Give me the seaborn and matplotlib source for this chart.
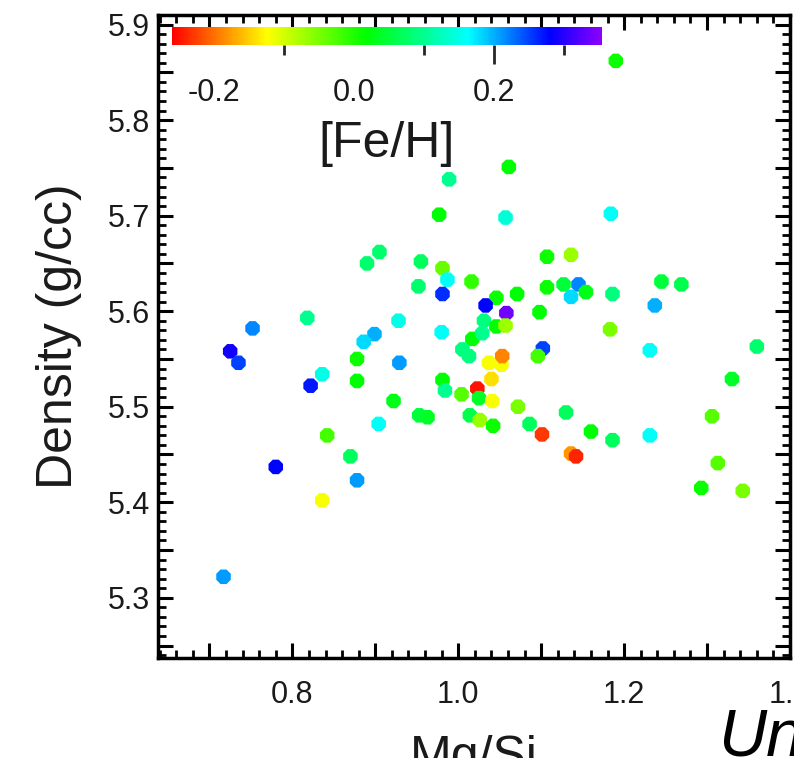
import numpy as np
import pandas as pd
import matplotlib
matplotlib.use("Agg")
import matplotlib.pyplot as plt
from matplotlib.colors import LinearSegmentedColormap, Normalize
from matplotlib.ticker import MultipleLocator, FuncFormatter
import seaborn as sns

# ---- data ----
mg_si = [1.190, 1.061, 0.989, 0.977, 1.057, 1.184, 0.905, 0.890, 0.955, 0.981,
         0.987, 1.016, 0.952, 0.981, 0.818, 0.928, 0.752, 0.980, 0.899, 0.886,
         1.017, 1.005, 1.013, 0.878, 0.929, 0.725, 0.735, 0.836, 0.822, 0.878,
         0.981, 0.984, 1.004, 0.922, 0.953, 0.963, 0.904, 0.842, 0.870, 0.780,
         0.878, 0.836, 0.717, 1.023, 1.014, 1.026, 1.042, 1.025, 1.041, 1.072,
         1.086, 1.101, 1.130, 1.136, 1.142, 1.160, 1.186, 1.231, 1.306, 1.313,
         1.293, 1.343, 1.330, 1.360, 1.231, 1.183, 1.102, 1.096, 1.098, 1.107,
         1.136, 1.107, 1.127, 1.145, 1.136, 1.154, 1.186, 1.245, 1.269, 1.237,
         1.046, 1.071, 1.033, 1.058, 1.031, 1.046, 1.057, 1.029, 1.052, 1.053,
         1.037, 1.040]
density = [5.862, 5.751, 5.738, 5.701, 5.698, 5.702, 5.662, 5.650, 5.652, 5.645,
           5.633, 5.631, 5.626, 5.618, 5.593, 5.590, 5.582, 5.578, 5.576, 5.568,
           5.571, 5.560, 5.553, 5.550, 5.546, 5.558, 5.546, 5.534, 5.522, 5.527,
           5.528, 5.517, 5.513, 5.506, 5.491, 5.489, 5.482, 5.470, 5.448, 5.437,
           5.423, 5.402, 5.322, 5.519, 5.491, 5.486, 5.480, 5.509, 5.506, 5.500,
           5.482, 5.471, 5.494, 5.451, 5.448, 5.474, 5.465, 5.470, 5.490, 5.441,
           5.415, 5.412, 5.529, 5.563, 5.559, 5.581, 5.561, 5.553, 5.599, 5.657,
           5.659, 5.625, 5.628, 5.628, 5.615, 5.620, 5.618, 5.631, 5.628, 5.606,
           5.614, 5.618, 5.606, 5.598, 5.590, 5.584, 5.585, 5.577, 5.544, 5.553,
           5.546, 5.529]
fe_h = [0.01, 0.02, 0.10, 0.02, 0.14, 0.16, 0.08, 0.08, 0.07, -0.04,
        0.16, -0.01, 0.08, 0.26, 0.10, 0.15, 0.22, 0.16, 0.20, 0.18,
        0.02, 0.09, 0.09, 0.01, 0.21, 0.29, 0.25, 0.15, 0.27, 0.02,
        0.02, 0.10, -0.03, 0.03, 0.05, 0.04, 0.16, -0.02, 0.07, 0.28,
        0.21, -0.12, 0.21, -0.25, 0.06, -0.07, 0.01, 0.04, -0.12, -0.05,
        0.07, -0.23, 0.07, -0.18, -0.24, 0.02, 0.07, 0.16, -0.03, -0.03,
        0.01, -0.05, 0.04, 0.08, 0.16, -0.05, 0.25, -0.02, 0.02, 0.01,
        -0.07, 0.01, 0.05, 0.22, 0.18, 0.03, 0.09, 0.05, 0.06, 0.20,
        0.01, 0.02, 0.28, 0.34, 0.09, 0.02, -0.07, 0.10, -0.12, -0.19,
        -0.12, -0.14]

cbar_ticks = [-0.2, 0.0, 0.2]
cbar_minor = [-0.1, 0.1, 0.3]
x_labels = [0.8, 1.0, 1.2, 1.4]
y_labels = [5.3, 5.4, 5.5, 5.6, 5.7, 5.8, 5.9]

df = pd.DataFrame({"Mg/Si": mg_si, "Density": density, "FeH": fe_h})

# ---- style ----
sns.set_style("ticks")
plt.rcParams["font.family"] = ["Liberation Sans", "DejaVu Sans"]
plt.rcParams["axes.unicode_minus"] = True

cmap = LinearSegmentedColormap.from_list(
    "idl_rainbow",
    [(0.0, (1.0, 0.0, 0.0)), (0.11, (1.0, 0.5, 0.0)), (0.22, (1.0, 1.0, 0.0)),
     (0.45, (0.0, 1.0, 0.0)), (0.69, (0.0, 1.0, 1.0)), (0.88, (0.0, 0.0, 1.0)),
     (1.0, (0.55, 0.0, 1.0))])
vmin, vmax = -0.26, 0.355
norm = Normalize(vmin=vmin, vmax=vmax)

W, H = 794, 758
fig = plt.figure(figsize=(W / 100, H / 100), dpi=100)
ax = fig.add_axes([158 / W, 1 - 658 / H, (790 - 158) / W, (658 - 15) / H])

sns.scatterplot(data=df, x="Mg/Si", y="Density", hue="FeH", palette=cmap,
                hue_norm=norm, marker="8", s=128, linewidth=0, legend=False,
                ax=ax, zorder=3)

ax.set_xlim(0.638, 1.4)
ax.set_ylim(5.237, 5.91)

ax.xaxis.set_major_locator(MultipleLocator(0.1))
ax.xaxis.set_minor_locator(MultipleLocator(0.02))
ax.yaxis.set_major_locator(MultipleLocator(0.05))
ax.yaxis.set_minor_locator(MultipleLocator(0.01))


def fmt_x(v, pos):
    for l in x_labels:
        if abs(v - l) < 1e-6:
            return f"{l:.1f}"
    return ""


def fmt_y(v, pos):
    for l in y_labels:
        if abs(v - l) < 1e-6:
            return f"{l:.1f}"
    return ""


ax.xaxis.set_major_formatter(FuncFormatter(fmt_x))
ax.yaxis.set_major_formatter(FuncFormatter(fmt_y))

ax.tick_params(which="both", direction="in", top=True, right=True,
               color="black", labelcolor="#1a1a1a")
ax.tick_params(which="major", length=11, width=2.2, labelsize=22)
ax.tick_params(which="minor", length=5.5, width=2.0)
ax.tick_params(axis="x", which="major", pad=16)
ax.tick_params(axis="y", which="major", pad=6)
for sp in ax.spines.values():
    sp.set_linewidth(2.5)
    sp.set_color("black")

ax.set_xlabel("Mg/Si", fontsize=36, labelpad=18, color="#1a1a1a")
ax.set_ylabel("Density (g/cc)", fontsize=36, labelpad=18, color="#1a1a1a")

# ---- colorbar inside the axes ----
cax = fig.add_axes([172 / W, 1 - 45 / H, (602 - 172) / W, 18 / H])
sm = plt.cm.ScalarMappable(norm=norm, cmap=cmap)
cb = fig.colorbar(sm, cax=cax, orientation="horizontal")
cb.outline.set_visible(False)
cb.set_ticks(cbar_ticks)
cb.set_ticklabels([f"{t:.1f}" for t in cbar_ticks])
cax.xaxis.set_minor_locator(matplotlib.ticker.FixedLocator(cbar_minor))
cax.tick_params(which="major", length=14, width=2.0, labelsize=22, pad=10,
                direction="out", labelcolor="#1a1a1a")
cax.tick_params(which="minor", length=7, width=2.0, direction="out")
for t in cax.xaxis.get_major_ticks()[:2]:
    t.tick1line.set_visible(False)
cb.set_label("[Fe/H]", fontsize=36, labelpad=9, color="#1a1a1a")

fig.text(718 / W, 1 - 755 / H, "Un", fontsize=48, style="italic",
         ha="left", va="baseline", color="black")

fig.savefig("out.png", dpi=100)
